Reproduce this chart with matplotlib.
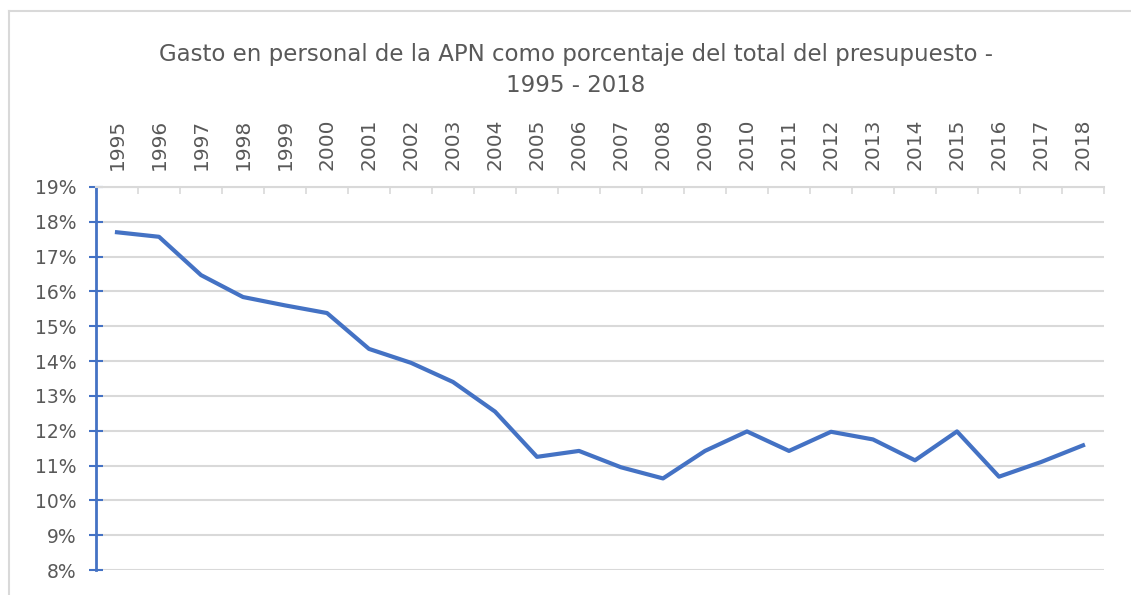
import matplotlib
matplotlib.use("Agg")
import matplotlib.pyplot as plt
from matplotlib.ticker import FuncFormatter, MultipleLocator
from matplotlib.lines import Line2D

years = list(range(1995, 2019))
gasto_pct = [17.7, 17.57, 16.47, 15.84, 15.6, 15.38, 14.35, 13.95, 13.4, 12.55,
             11.25, 11.42, 10.95, 10.63, 11.42, 11.98, 11.42, 11.97, 11.75, 11.15,
             11.98, 10.68, 11.1, 11.58]

title = "Gasto en personal de la APN como porcentaje del total del presupuesto -\n1995 - 2018"

grey_txt = "#595959"
blue = "#4472C4"

plt.rcParams["font.family"] = ["DejaVu Sans"]

fig = plt.figure(figsize=(11.31, 5.95), dpi=100)
ax = fig.add_axes([96 / 1131, 25 / 595, 1008 / 1131, 383 / 595])

# light frame (top and left edges only, the rest is cropped off)
fx, fy = 8.5 / 1131, 1 - 10.5 / 595
fig.lines.append(Line2D([fx, 1], [fy, fy], transform=fig.transFigure, color="#d9d9d9", linewidth=1.5))
fig.lines.append(Line2D([fx, fx], [0, fy], transform=fig.transFigure, color="#d9d9d9", linewidth=1.5))

x = list(range(len(years)))
ax.plot(x, gasto_pct, color=blue, linewidth=3, solid_joinstyle="round", zorder=3)

ax.set_xlim(-0.5, len(years) - 0.5)
ax.set_ylim(8, 19)

# x axis on top, labels rotated
ax.xaxis.tick_top()
ax.set_xticks(x)
ax.set_xticklabels([str(y) for y in years], rotation=90, fontsize=14.5, color=grey_txt)
ax.set_xticks([i - 0.5 for i in range(len(years) + 1)], minor=True)
ax.tick_params(axis="x", which="major", length=0, pad=12)
ax.tick_params(axis="x", which="minor", length=5, width=1.2, color="#d9d9d9", direction="in")

ax.yaxis.set_major_locator(MultipleLocator(1))
ax.yaxis.set_major_formatter(FuncFormatter(lambda v, p: f"{v:.0f}%"))
ax.tick_params(axis="y", which="major", length=10, width=1.5, color=blue, direction="inout",
               labelsize=13.5, labelcolor=grey_txt, pad=9)

ax.grid(axis="y", color="#d9d9d9", linewidth=1.5)
ax.set_axisbelow(True)

for side in ["right", "bottom"]:
    ax.spines[side].set_visible(False)
ax.spines["top"].set_color("#d9d9d9")
ax.spines["top"].set_linewidth(1.5)
ax.spines["left"].set_color(blue)
ax.spines["left"].set_linewidth(2)

fig.text(0.509, 1 - 70 / 595, title, ha="center", va="center", fontsize=16.5, color=grey_txt,
         linespacing=1.45)

fig.savefig("out.png", dpi=100)
